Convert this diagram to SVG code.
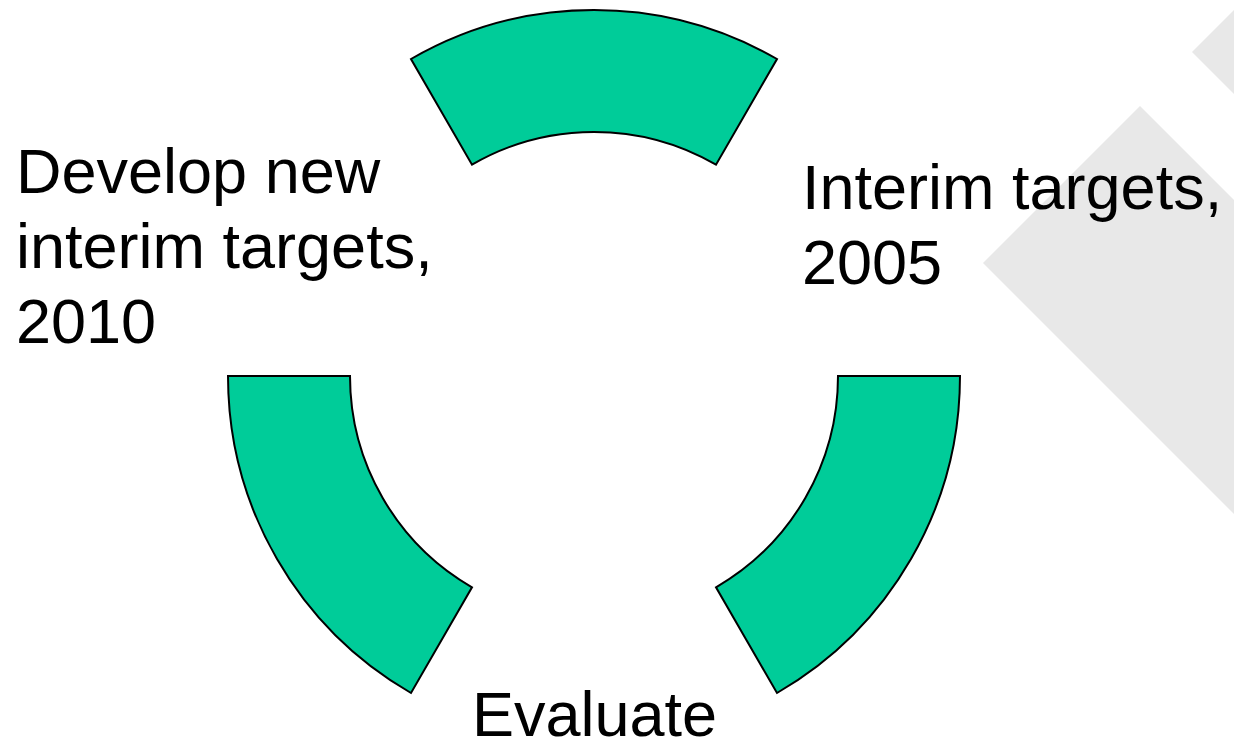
<svg xmlns="http://www.w3.org/2000/svg" width="1234" height="741" viewBox="0 0 1234 741">
<style>
.seg{fill:#00CC99;stroke:#000;stroke-width:2;stroke-linejoin:miter}
.bg{fill:#E8E8E8;stroke:none}
.lbl{font-family:"Liberation Sans",Arial,sans-serif;font-size:63px;fill:#000}
</style>
<rect width="1234" height="741" fill="#fff"/>
<g id="background">
<polygon class="bg" points="1192,52 1234,10 1234,94"/>
<polygon class="bg" points="983,263 1140,106 1234,200 1234,514"/>
</g>
<g id="node-top">
<path class="seg" d="M411,59 A366,366 0 0 1 777,59 L716,164.7 A244,244 0 0 0 472,164.7 Z"/>
</g>
<g id="node-right">
<path class="seg" d="M960,376 A366,366 0 0 1 777,693 L716,587.3 A244,244 0 0 0 838,376 Z"/>
</g>
<g id="node-left">
<path class="seg" d="M228,376 L350,376 A244,244 0 0 0 472,587.3 L411,693 A366,366 0 0 1 228,376 Z"/>
</g>
<g id="label-develop">
<text class="lbl" x="16" y="193">Develop new</text>
<text class="lbl" x="16" y="268">interim targets,</text>
<text class="lbl" x="16" y="343">2010</text>
</g>
<g id="label-interim">
<text class="lbl" x="802" y="209">Interim targets,</text>
<text class="lbl" x="802" y="284">2005</text>
</g>
<g id="label-evaluate">
<text class="lbl" x="594.5" y="736" text-anchor="middle">Evaluate</text>
</g>
<g id="connectors"></g>
</svg>
